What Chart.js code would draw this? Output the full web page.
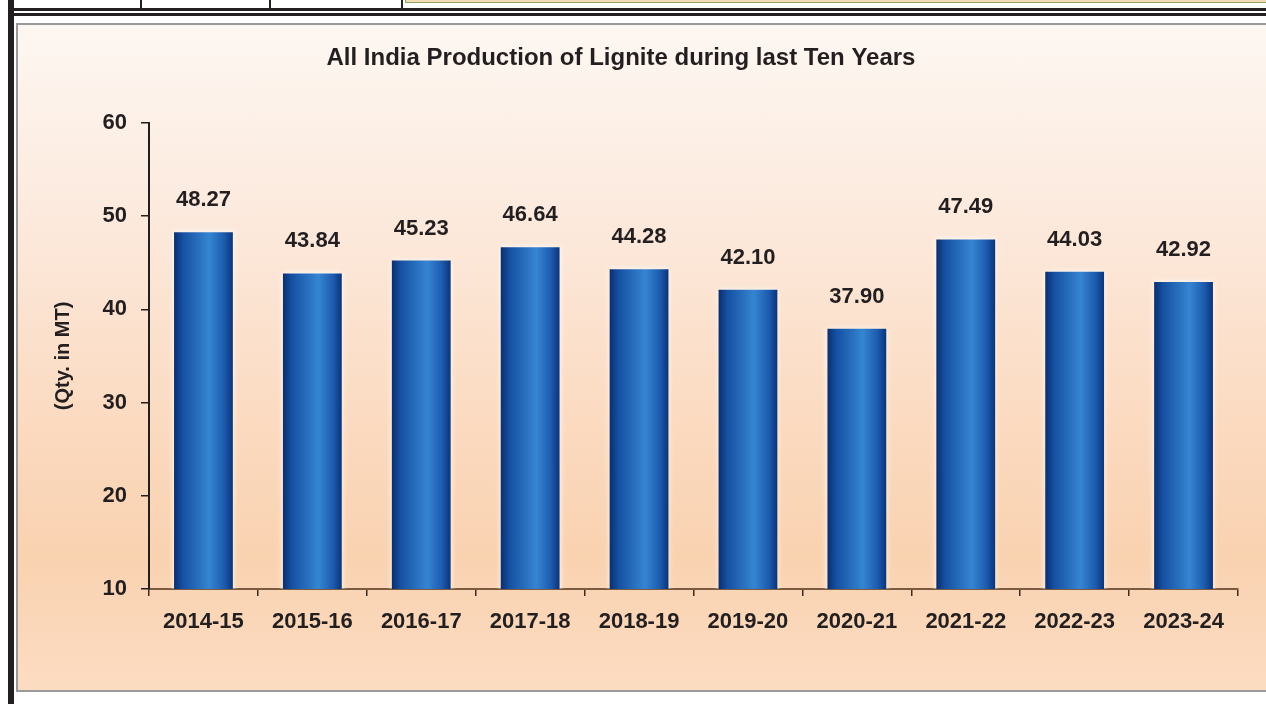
<!DOCTYPE html>
<html>
<head>
<meta charset="utf-8">
<script src="https://cdn.jsdelivr.net/npm/chart.js@4.4.1/dist/chart.umd.min.js"></script>
<style>
  html, body { margin: 0; padding: 0; background: #fff; }
  body { width: 1266px; height: 704px; position: relative; overflow: hidden; }
  .leftbar { position: absolute; left: 8px; top: 0; width: 6px; height: 704px; background: #231f20; }
  .hline { position: absolute; left: 14px; right: 0; height: 3px; background: #231f20; }
  .vline { position: absolute; top: 0; width: 2px; height: 8px; background: #231f20; }
  .topbox { position: absolute; left: 405px; top: -4px; right: -4px; height: 5px; background: #f8d9b5; border: 1px solid #8aa860; }
  .panel { position: absolute; left: 16px; top: 23px; width: 1270px; height: 665px; border: 2px solid #9a9a9a;
    background: linear-gradient(to bottom, #fdf7f2 0%, #fce9dc 30%, #fbdac0 60%, #f9d2b0 80%, #fcdcc2 100%); }
  #wrap { position: absolute; left: 0; top: 0; width: 1266px; height: 704px; }
</style>
</head>
<body>
<div class="leftbar"></div>
<div class="vline" style="left:140px"></div>
<div class="vline" style="left:269px"></div>
<div class="vline" style="left:401px"></div>
<div class="topbox"></div>
<div class="hline" style="top:8px"></div>
<div class="hline" style="top:13px"></div>
<div class="panel"></div>
<div id="wrap"><canvas id="grafico"></canvas></div>
<script>
//Datos del grafico
const years = ['2014-15','2015-16','2016-17','2017-18','2018-19','2019-20','2020-21','2021-22','2022-23','2023-24']
const production = [48.27, 43.84, 45.23, 46.64, 44.28, 42.10, 37.90, 47.49, 44.03, 42.92]
const yTicks = [10, 20, 30, 40, 50, 60]

const FONT = '"Liberation Sans", Arial, sans-serif'
const BAR_PCT = 0.54

//Gradiente tipo cilindro para cada barra
const barGradient = (c) => {
    const chart = c.chart
    if (!chart.chartArea) return '#1f5fb0'
    const xs = chart.scales.x
    const w = (xs.width / years.length) * BAR_PCT
    const cx = xs.getPixelForValue(c.dataIndex)
    const g = chart.ctx.createLinearGradient(cx - w / 2, 0, cx + w / 2, 0)
    g.addColorStop(0, '#0a2f6e')
    g.addColorStop(0.15, '#1650a2')
    g.addColorStop(0.6, '#3585d2')
    g.addColorStop(0.85, '#1d5cb0')
    g.addColorStop(1, '#0b3478')
    return g
}

//Etiquetas de valor sobre las barras
const valueLabels = {
    id: 'valueLabels',
    beforeDatasetsDraw(chart) {
        chart.ctx.save()
        chart.ctx.shadowColor = 'rgba(255,255,255,0.9)'
        chart.ctx.shadowBlur = 6
    },
    afterDatasetsDraw(chart) {
        const ctx = chart.ctx
        ctx.restore()
        ctx.save()
        ctx.font = 'bold 22px ' + FONT
        ctx.fillStyle = '#231f20'
        ctx.textAlign = 'center'
        ctx.textBaseline = 'alphabetic'
        chart.getDatasetMeta(0).data.forEach((bar, i) => {
            ctx.fillText(production[i].toFixed(2), bar.x, bar.y - 26)
        })
        ctx.restore()
    }
}

const ctx = document.getElementById('grafico').getContext('2d')
new Chart(ctx, {
    type: 'bar',
    data: {
        labels: years,
        datasets: [{
            label: 'Production',
            data: production,
            backgroundColor: barGradient,
            barPercentage: BAR_PCT,
            categoryPercentage: 1
        }]
    },
    options: {
        responsive: true,
        maintainAspectRatio: false,
        animation: false,
        layout: { padding: { left: 4, right: 28, top: 0, bottom: 0 } },
        plugins: {
            legend: { display: false },
            tooltip: { enabled: false },
            title: {
                display: true,
                text: 'All India Production of Lignite during last Ten Years',
                color: '#231f20',
                font: { family: FONT, size: 24, weight: 'bold' },
                padding: { top: 44, bottom: 50 }
            }
        },
        scales: {
            x: {
                grid: { display: true, drawOnChartArea: false, offset: true, tickLength: 7, color: '#3b2a1e', lineWidth: 1.5 },
                border: { display: true, color: '#7a5a3e', width: 2 },
                ticks: { color: '#231f20', font: { family: FONT, size: 22, weight: 'bold' }, padding: 13 },
                afterFit: (s) => { s.height = 115 }
            },
            y: {
                min: 10,
                max: 60,
                afterBuildTicks: (s) => { s.ticks = yTicks.map(v => ({ value: v })) },
                grid: { display: true, drawOnChartArea: false, tickLength: 8, color: '#231f20', lineWidth: 1.5 },
                border: { display: true, color: '#231f20', width: 2 },
                ticks: { color: '#231f20', font: { family: FONT, size: 22, weight: 'bold' }, padding: 14 },
                title: {
                    display: true,
                    text: '(Qty. in MT)',
                    color: '#231f20',
                    font: { family: FONT, size: 20, weight: 'bold' },
                    padding: { top: 47, bottom: 0 }
                },
                afterFit: (s) => { s.width = 145 }
            }
        }
    },
    plugins: [valueLabels]
})
</script>
</body>
</html>
